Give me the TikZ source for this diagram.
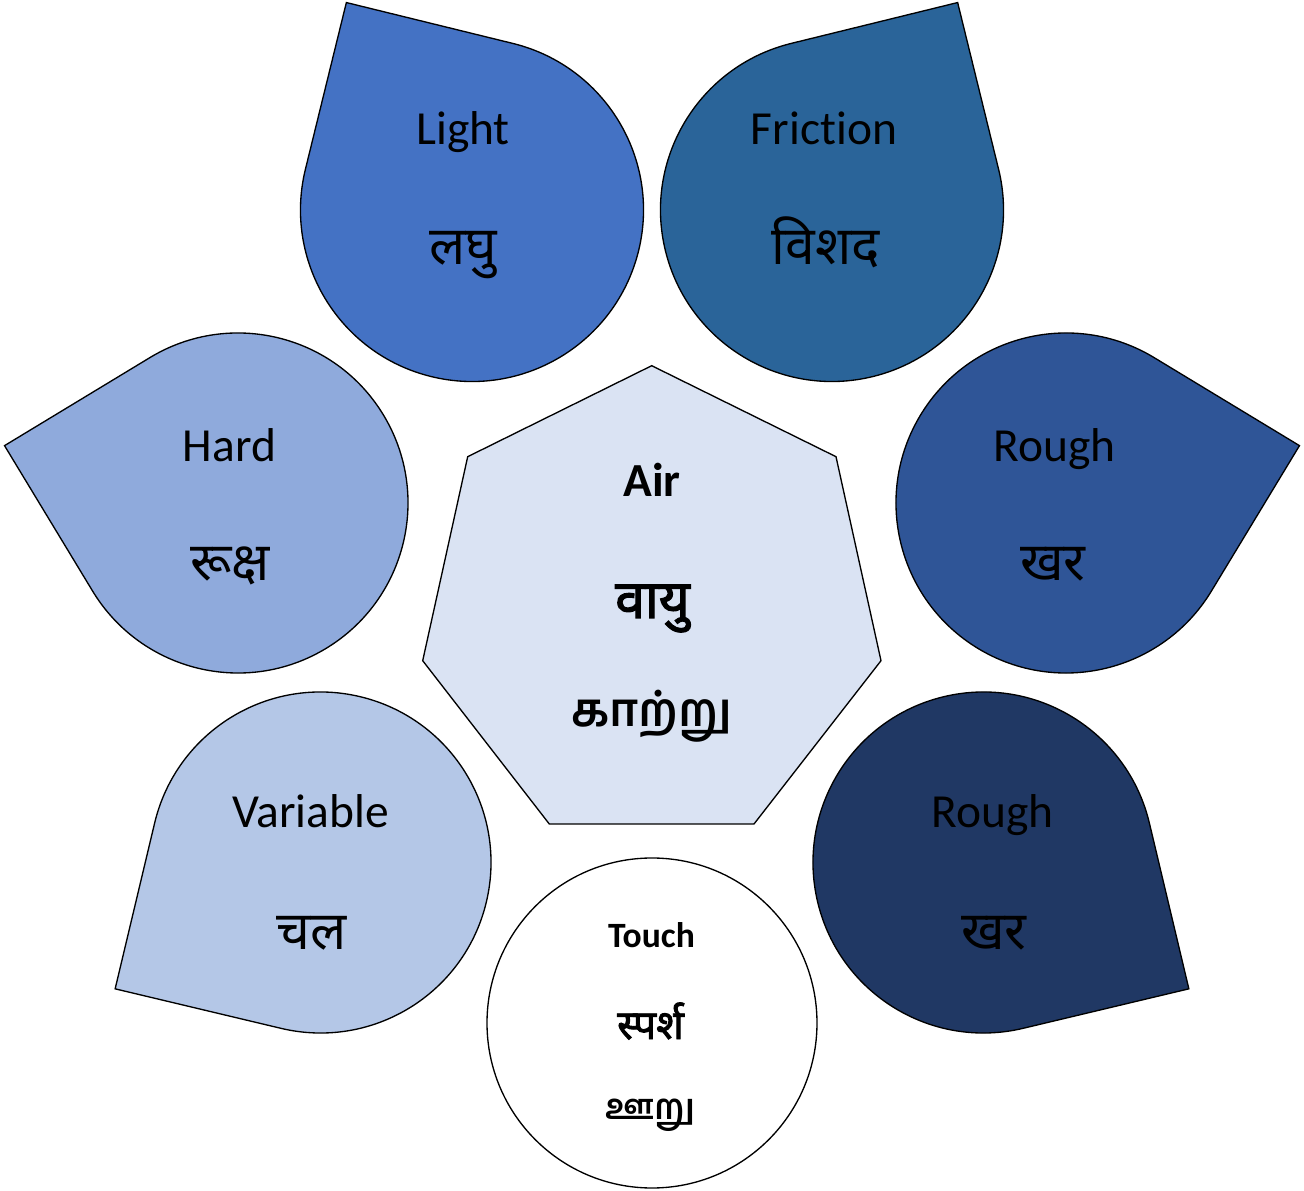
\documentclass[tikz,border=0pt]{standalone}
\usepackage{fontspec}
\setmainfont[Ligatures=NoCommon]{Carlito}
\newfontfamily\devfont[Script=Devanagari]{Noto Sans}
\newfontfamily\devfontb[Script=Devanagari, FakeBold=2.2]{Noto Sans}
\newfontfamily\tamfont[Script=Tamil]{Hind Madurai}
\usetikzlibrary{calc}
\definecolor{cLight}{HTML}{4472C4}
\definecolor{cFric}{HTML}{2A6499}
\definecolor{cHard}{HTML}{8FAADC}
\definecolor{cRough}{HTML}{2F5597}
\definecolor{cRoughB}{HTML}{203864}
\definecolor{cVar}{HTML}{B4C7E7}
\definecolor{cHept}{HTML}{DAE3F3}
\tikzset{
  petal/.style={draw=black, line width=1pt},
  lat/.style={font=\fontsize{35.6}{42}\selectfont, anchor=base, inner sep=0pt},
  dev/.style={font=\devfont\fontsize{40}{46}\selectfont, anchor=base, inner sep=0pt},
  latb/.style={font=\bfseries\fontsize{35.6}{42}\selectfont, anchor=base, inner sep=0pt},
  devb/.style={font=\devfontb\fontsize{40}{46}\selectfont, anchor=base, inner sep=0pt},
  tamb/.style={font=\tamfont\bfseries\fontsize{35}{42}\selectfont, anchor=base, inner sep=0pt},
  slatb/.style={font=\bfseries\fontsize{26.7}{32}\selectfont, anchor=base, inner sep=0pt},
  sdevb/.style={font=\devfontb\fontsize{30.5}{36}\selectfont, anchor=base, inner sep=0pt},
  stamb/.style={font=\tamfont\bfseries\fontsize{26.7}{32}\selectfont, anchor=base, inner sep=0pt},
}
% #1 fill, #2 centre coordinate, #3 radius, #4 tip angle
\newcommand\tdrop[4]{%
  \path[petal, fill=#1] ($(#2)+(#4-45:#3)$) -- ($(#2)+(#4:{1.41421*#3})$)
    -- ($(#2)+(#4+45:#3)$) arc[start angle=#4+45, end angle=#4+315, radius=#3] -- cycle;}
\begin{document}
\begin{tikzpicture}[x=0.75pt, y=0.75pt]
\useasboundingbox (0,0) rectangle (1304,1190);
% centres
\coordinate (cL) at (472,980);
\coordinate (cF) at (832,980);
\coordinate (cH) at (238,687);
\coordinate (cR) at (1066,687);
\coordinate (cV) at (320.5,327.5);
\coordinate (cB) at (983.5,327.5);
\coordinate (cT) at (652,167);
% petals
\tdrop{cLight}{cL}{171.5}{121.2}
\tdrop{cFric}{cF}{171.5}{58.8}
\tdrop{cHard}{cH}{170}{166.2}
\tdrop{cRough}{cR}{170}{13.8}
\tdrop{cVar}{cV}{170.5}{211.6}
\tdrop{cRoughB}{cB}{170.5}{328.4}
% heptagon
\path[petal, fill=cHept] (651.7,824.3) -- (836,733.3) -- (881,529.3) -- (754,366)
  -- (549.3,366) -- (422.7,529.3) -- (467.7,733.3) -- cycle;
% touch circle
\path[petal, fill=white] (cT) circle[radius=165];
% texts
\node[lat] (tL1) at (463,1045) {Light};
\node[dev] (tL2) at (463,925) {लघु};
\node[lat] (tF1) at (824,1045) {Friction};
\node[dev] (tF2) at (826,925) {विशद};
\node[lat] (tH1) at (229.5,728) {Hard};
\node[dev] (tH2) at (230,609) {रूक्ष};
\node[lat] (tR1) at (1054.5,728) {Rough};
\node[dev] (tR2) at (1053,609) {खर};
\node[lat] (tV1) at (310.5,362) {Variable};
\node[dev] (tV2) at (312,240) {चल};
\node[lat] (tB1) at (992.5,362) {Rough};
\node[dev] (tB2) at (994,240) {खर};
\node[latb] (tA1) at (652,693) {Air};
\node[devb] (tA2) at (652.5,572) {वायु};
\node[tamb] (tA3) at (652,463) {காற்று};
\node[slatb] (tT1) at (651.5,242) {Touch};
\node[sdevb] (tT2) at (650.5,151) {स्पर्श};
\node[stamb] (tT3) at (650.5,70) {ஊறு};
\end{tikzpicture}
\end{document}
